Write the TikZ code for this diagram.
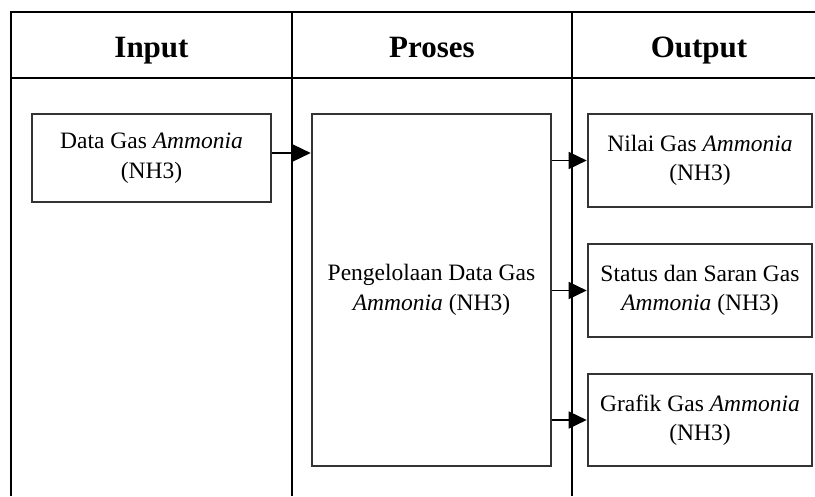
\documentclass[tikz,border=0pt]{standalone}
\usepackage{fontspec}
\setmainfont{Liberation Serif}
\usetikzlibrary{arrows.meta}
\begin{document}
\begin{tikzpicture}[x=1pt,y=-1pt,
  tline/.style={line width=1.6pt,black},
  boxnode/.style={draw=black!80,line width=2.6pt,fill=white,align=center,inner sep=0pt,
    font=\fontsize{23.5}{29.5}\selectfont},
  headnode/.style={font=\fontsize{31}{36}\selectfont\bfseries,anchor=base},
  arr/.style={line width=1.5pt,-{Triangle[length=18pt,width=17pt]}}]
\useasboundingbox (0,0) rectangle (815,496);
% table
\draw[tline] (11,496) -- (11,12) -- (815,12);
\draw[tline] (11,78) -- (815,78);
\draw[tline] (292,12) -- (292,496);
\draw[tline] (572,12) -- (572,496);
% headers
\node[headnode] (hin) at (151.5,57) {Input};
\node[headnode] (hpr) at (432,57) {Proses};
\node[headnode] (hout) at (699,57) {Output};
% boxes
\node[boxnode,minimum width=239pt,minimum height=88pt] (in) at (151.5,158) {Data Gas \textit{Ammonia}\\(NH3)};
\node[boxnode,minimum width=239pt,minimum height=352pt] (proc) at (431.5,290) {Pengelolaan Data Gas\\\textit{Ammonia} (NH3)};
\node[boxnode,minimum width=224pt,minimum height=93pt] (o1) at (700,160.5) {Nilai Gas \textit{Ammonia}\\(NH3)};
\node[boxnode,minimum width=224pt,minimum height=93pt] (o2) at (700,290.5) {Status dan Saran Gas\\\textit{Ammonia} (NH3)};
\node[boxnode,minimum width=224pt,minimum height=92pt] (o3) at (700,420) {Grafik Gas \textit{Ammonia}\\(NH3)};
% arrows
\draw[arr] ([yshift=5pt]in.east) -- ([yshift=5pt]in.east -| proc.west);
\draw[arr] (proc.east |- o1.west) -- (o1.west);
\draw[arr] (proc.east |- o2.west) -- (o2.west);
\draw[arr] (proc.east |- o3.west) -- (o3.west);
\end{tikzpicture}
\end{document}
